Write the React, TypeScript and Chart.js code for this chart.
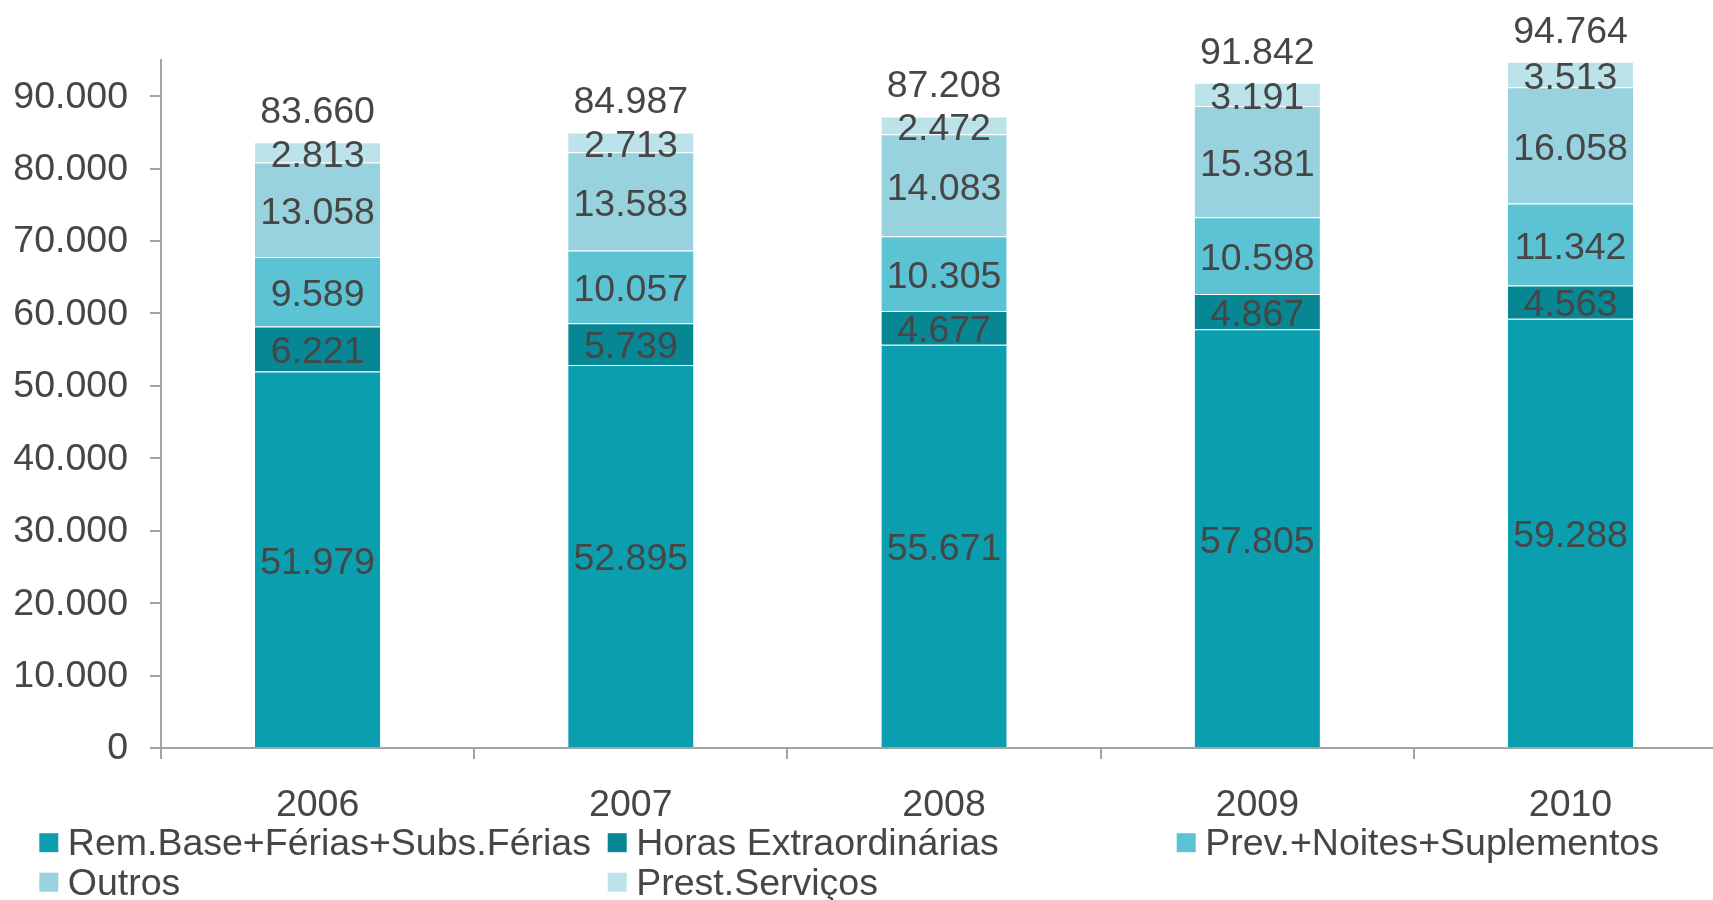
import React, { useEffect, useRef } from "react";
import { Chart, registerables } from "chart.js";

Chart.register(...registerables);

const categories = ["2006", "2007", "2008", "2009", "2010"];
const seriesNames = [
  "Rem.Base+Férias+Subs.Férias",
  "Horas Extraordinárias",
  "Prev.+Noites+Suplementos",
  "Outros",
  "Prest.Serviços",
];
const remBase = [51979, 52895, 55671, 57805, 59288];
const horasExtra = [6221, 5739, 4677, 4867, 4563];
const prevNoites = [9589, 10057, 10305, 10598, 11342];
const outros = [13058, 13583, 14083, 15381, 16058];
const prestServicos = [2813, 2713, 2472, 3191, 3513];
const colors = ["#0B9EAF", "#078794", "#5BC3D4", "#97D2DE", "#BDE3EA"];
const yTicks = [0, 10000, 20000, 30000, 40000, 50000, 60000, 70000, 80000, 90000];

const FONT = '"Liberation Sans", Arial, sans-serif';
const FSIZE = 37.5;
const TEXT = "#464646";
const AXIS = "#a3a3a3";

const fmt = (v: number) =>
  Math.round(v)
    .toString()
    .replace(/\B(?=(\d{3})+(?!\d))/g, ".");

const labelPlugin = {
  id: "segLabels",
  afterDatasetsDraw(chart: any) {
    const ctx = chart.ctx;
    ctx.save();
    ctx.font = `${FSIZE}px ${FONT}`;
    ctx.fillStyle = TEXT;
    ctx.textAlign = "center";
    ctx.textBaseline = "middle";
    const n = chart.data.datasets.length;
    for (let i = 0; i < n; i++) {
      const meta = chart.getDatasetMeta(i);
      meta.data.forEach((bar: any, j: number) => {
        const { x, y, base } = bar.getProps(["x", "y", "base"], true);
        const v = chart.data.datasets[i].data[j] as number;
        ctx.fillText(fmt(v), x, (y + base) / 2 + 4);
      });
    }
    const lastMeta = chart.getDatasetMeta(n - 1);
    lastMeta.data.forEach((bar: any, j: number) => {
      const { x, y } = bar.getProps(["x", "y"], true);
      let total = 0;
      for (let i = 0; i < n; i++) total += chart.data.datasets[i].data[j] as number;
      ctx.fillText(fmt(total), x, y - 29.5);
    });
    ctx.restore();
  },
};

const legendPlugin = {
  id: "gridLegend",
  afterDraw(chart: any) {
    const ctx = chart.ctx;
    const cols = [39.3, 607.7, 1176.7];
    const rows = [842.7, 882.2];
    const box = 19;
    ctx.save();
    ctx.font = `${FSIZE}px ${FONT}`;
    ctx.textAlign = "left";
    ctx.textBaseline = "middle";
    chart.data.datasets.forEach((ds: any, i: number) => {
      const cx = cols[i % 3];
      const cy = rows[Math.floor(i / 3)];
      ctx.fillStyle = ds.backgroundColor;
      ctx.fillRect(cx, cy - box / 2, box, box);
      ctx.fillStyle = TEXT;
      ctx.fillText(ds.label, cx + 28.5, cy + 2);
    });
    ctx.restore();
  },
};

export default function App() {
  const ref = useRef<HTMLCanvasElement | null>(null);
  useEffect(() => {
    if (!ref.current) return;
    const values = [remBase, horasExtra, prevNoites, outros, prestServicos];
    const chart = new Chart(ref.current, {
      type: "bar",
      data: {
        labels: categories,
        datasets: values.map((d, i) => ({
          label: seriesNames[i],
          data: d,
          backgroundColor: colors[i],
          borderColor: "rgba(255,255,255,0.3)",
          borderWidth: { top: 1, left: 0, right: 0, bottom: 0 },
          borderSkipped: false,
          categoryPercentage: 1,
          barPercentage: 0.4,
        })),
      },
      options: {
        responsive: false,
        animation: false,
        layout: { padding: { left: 0, right: 2.9, top: 60, bottom: 0 } },
        plugins: { legend: { display: false }, tooltip: { enabled: false } },
        scales: {
          x: {
            stacked: true,
            afterFit: (s: any) => {
              s.height = 152;
            },
            grid: {
              display: true,
              offset: true,
              drawOnChartArea: false,
              drawTicks: true,
              tickLength: 11,
              color: AXIS,
              lineWidth: 2,
            },
            border: { display: true, color: AXIS, width: 2 },
            ticks: {
              color: TEXT,
              font: { family: FONT, size: FSIZE },
              padding: 24,
            },
          },
          y: {
            stacked: true,
            min: 0,
            max: 95000,
            afterFit: (s: any) => {
              s.width = 161;
            },
            afterBuildTicks: (s: any) => {
              s.ticks = yTicks.map((v) => ({ value: v }));
            },
            grid: {
              display: true,
              drawOnChartArea: false,
              drawTicks: true,
              tickLength: 11,
              color: AXIS,
              lineWidth: 2,
            },
            border: { display: true, color: AXIS, width: 2 },
            ticks: {
              color: TEXT,
              font: { family: FONT, size: FSIZE },
              padding: 22,
              labelOffset: 1,
              callback: (v: any) => fmt(Number(v)),
            },
          },
        },
      },
      plugins: [labelPlugin, legendPlugin],
    });
    return () => chart.destroy();
  }, []);
  return (
    <div
      style={{
        position: "fixed",
        left: 0,
        top: 0,
        width: 1713,
        height: 900,
        overflow: "hidden",
        background: "#fff",
      }}
    >
      <canvas ref={ref} width={1730} height={900} style={{ width: 1730, height: 900, display: "block" }} />
    </div>
  );
}
